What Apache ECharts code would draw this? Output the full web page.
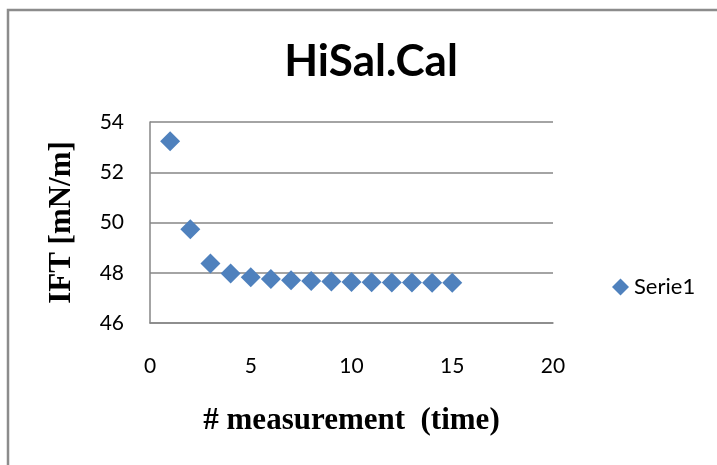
<!DOCTYPE html>
<html>
<head>
<meta charset="utf-8">
<script src="https://cdn.jsdelivr.net/npm/echarts@6/dist/echarts.min.js"></script>
<style>
  html, body { margin: 0; padding: 0; background: #fff; }
  #chart { width: 717px; height: 465px; }
</style>
</head>
<body>
<div id="chart"></div>
<script>
// Interfacial tension readings for the HiSal.Cal run
const measurementNo = [1, 2, 3, 4, 5, 6, 7, 8, 9, 10, 11, 12, 13, 14, 15];
const iftValues = [53.23, 49.73, 48.37, 47.97, 47.82, 47.75, 47.70, 47.67, 47.65, 47.63, 47.62, 47.61, 47.61, 47.60, 47.60];
const seriesName = 'Serie1';
const chartTitle = 'HiSal.Cal';
const xTitle = '# measurement  (time)';
const yTitle = 'IFT [mN/m]';

const points = measurementNo.map((x, i) => [x, iftValues[i]]);

const gray = '#868686';
const blue = '#4F81BD';
const sans = 'Lato, "Open Sans", sans-serif';
const serif = '"Liberation Serif", "DejaVu Serif", serif';

const chart = echarts.init(document.getElementById('chart'));
chart.setOption({
  animation: false,
  backgroundColor: '#fff',
  title: {
    text: chartTitle,
    left: 366,
    textAlign: 'center',
    top: 35,
    textStyle: { fontFamily: sans, fontWeight: 'bold', fontSize: 44, color: '#000' }
  },
  legend: {
    data: [{ name: seriesName, icon: 'diamond' }],
    left: 607,
    top: 271,
    itemWidth: 17,
    itemHeight: 17,
    itemGap: 4,
    textStyle: { fontFamily: sans, fontSize: 22, color: '#000' }
  },
  grid: { left: 150, right: 164, top: 122, bottom: 142, containLabel: false },
  xAxis: {
    type: 'value',
    min: 0, max: 20, interval: 5,
    name: xTitle,
    nameLocation: 'middle',
    nameGap: 82,
    nameTextStyle: { fontFamily: serif, fontWeight: 'bold', fontSize: 31, color: '#000' },
    axisLine: { show: true, lineStyle: { color: gray, width: 1.5 } },
    axisTick: { show: false },
    splitLine: { show: false },
    axisLabel: { margin: 33, fontFamily: sans, fontSize: 21, color: '#000' }
  },
  yAxis: {
    type: 'value',
    min: 46, max: 54, interval: 2,
    name: yTitle,
    nameLocation: 'middle',
    nameGap: 73,
    nameTextStyle: { fontFamily: serif, fontWeight: 'bold', fontSize: 31, color: '#000' },
    axisLine: { show: true, lineStyle: { color: gray, width: 1.5 } },
    axisTick: { show: false },
    splitLine: { show: true, lineStyle: { color: gray, width: 1.5 } },
    axisLabel: { margin: 26, fontFamily: sans, fontSize: 21, color: '#000' }
  },
  graphic: [
    {
      type: 'polyline',
      shape: { points: [[8, 470], [8, 10], [720, 10]] },
      style: { stroke: '#8c8c8c', lineWidth: 2.5, fill: null },
      silent: true
    }
  ],
  series: [{
    name: seriesName,
    type: 'scatter',
    symbol: 'diamond',
    symbolSize: 20,
    itemStyle: { color: blue, opacity: 1 },
    data: points
  }]
});
</script>
</body>
</html>
